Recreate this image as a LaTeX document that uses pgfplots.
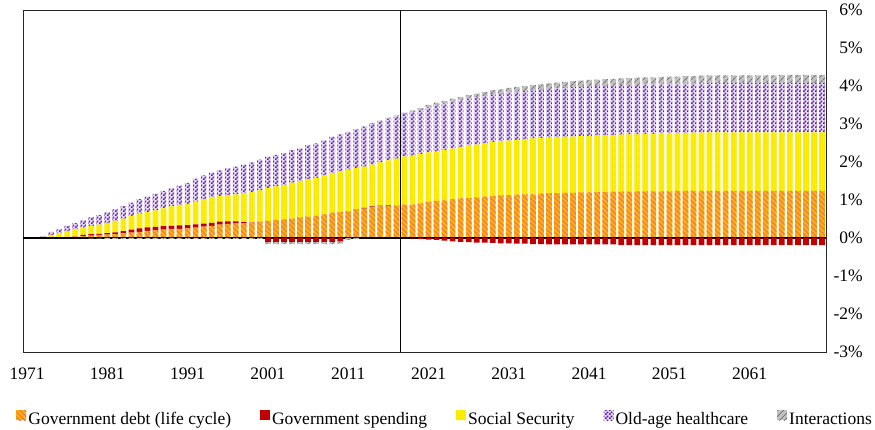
\documentclass[border=0pt]{standalone}
\usepackage{fontspec}
\setmainfont{Liberation Serif}
\usepackage{pgfplots}
\pgfplotsset{compat=1.18}
\usepackage{pgfplotstable}
\usetikzlibrary{patterns,patterns.meta}

% fine checker patterns (Excel-like)
\pgfdeclarepatternformonly{checker}{\pgfpointorigin}{\pgfqpoint{3.6pt}{3.6pt}}{\pgfqpoint{3.6pt}{3.6pt}}{%
  \pgfpathrectangle{\pgfpointorigin}{\pgfqpoint{1.8pt}{1.8pt}}%
  \pgfpathrectangle{\pgfqpoint{1.8pt}{1.8pt}}{\pgfqpoint{1.8pt}{1.8pt}}%
  \pgfusepath{fill}}
\pgfdeclarepatternformonly{finechecker}{\pgfpointorigin}{\pgfqpoint{2pt}{2pt}}{\pgfqpoint{2pt}{2pt}}{%
  \pgfpathrectangle{\pgfpointorigin}{\pgfqpoint{1pt}{1pt}}%
  \pgfpathrectangle{\pgfqpoint{1pt}{1pt}}{\pgfqpoint{1pt}{1pt}}%
  \pgfusepath{fill}}

\definecolor{debtbase}{RGB}{255,180,0}
\definecolor{debtline}{RGB}{240,125,75}
\definecolor{spendc}{RGB}{192,0,0}
\definecolor{ssbase}{RGB}{255,245,0}
\definecolor{ssdot}{RGB}{255,205,0}
\definecolor{hcbase}{RGB}{228,214,242}
\definecolor{hcc}{RGB}{100,30,160}
\definecolor{intbase}{RGB}{192,192,192}
\definecolor{intline}{RGB}{70,70,70}

\newcommand\lfont{\fontsize{17.5pt}{20pt}\selectfont}

% year, debt, spending, social security, healthcare, interactions (% of GDP)
\pgfplotstableread{
year D S SS HC I
1971 0 0 0 0 0
1972 0 0 0 0 0
1973 0.01 0 0.01 0.03 0
1974 0.01 0 0.07 0.08 0
1975 0.02 0 0.10 0.11 0
1976 0.03 0 0.15 0.14 0
1977 0.04 0.01 0.18 0.16 0
1978 0.05 0.03 0.19 0.20 0
1979 0.06 0.04 0.22 0.22 -0.01
1980 0.08 0.03 0.24 0.25 -0.01
1981 0.09 0.04 0.27 0.28 -0.02
1982 0.10 0.05 0.30 0.30 -0.02
1983 0.12 0.06 0.33 0.33 -0.02
1984 0.14 0.08 0.36 0.35 -0.02
1985 0.16 0.09 0.39 0.38 -0.02
1986 0.19 0.09 0.40 0.41 -0.02
1987 0.20 0.09 0.44 0.43 -0.02
1988 0.22 0.09 0.47 0.46 -0.02
1989 0.24 0.08 0.51 0.48 -0.02
1990 0.24 0.09 0.54 0.51 -0.02
1991 0.25 0.09 0.56 0.55 -0.02
1992 0.27 0.09 0.60 0.60 -0.02
1993 0.30 0.08 0.64 0.63 -0.02
1994 0.32 0.08 0.67 0.65 -0.02
1995 0.35 0.08 0.67 0.68 -0.02
1996 0.37 0.07 0.69 0.71 -0.02
1997 0.39 0.05 0.71 0.73 -0.02
1998 0.39 0.03 0.76 0.75 -0.02
1999 0.41 0.01 0.79 0.78 -0.02
2000 0.43 0 0.82 0.81 -0.02
2001 0.45 -0.10 0.86 0.83 -0.06
2002 0.47 -0.10 0.89 0.83 -0.06
2003 0.49 -0.10 0.91 0.83 -0.06
2004 0.51 -0.10 0.95 0.85 -0.06
2005 0.54 -0.10 0.96 0.86 -0.06
2006 0.56 -0.10 0.98 0.90 -0.06
2007 0.58 -0.10 1.00 0.91 -0.06
2008 0.62 -0.10 1.03 0.92 -0.06
2009 0.67 -0.10 1.03 0.97 -0.06
2010 0.68 -0.09 1.08 0.97 -0.06
2011 0.70 0 1.10 0.99 -0.05
2012 0.76 0 1.08 1.02 -0.02
2013 0.77 0.02 1.09 1.05 0.01
2014 0.81 0.02 1.10 1.07 0.02
2015 0.83 0.02 1.14 1.08 0.02
2016 0.84 0.02 1.18 1.10 0.03
2017 0.86 0 1.23 1.11 0.03
2018 0.88 0 1.26 1.12 0.04
2019 0.88 -0.01 1.29 1.14 0.05
2020 0.91 -0.02 1.30 1.15 0.06
2021 0.95 -0.04 1.30 1.19 0.06
2022 0.98 -0.05 1.29 1.22 0.07
2023 0.99 -0.07 1.33 1.22 0.07
2024 1.02 -0.09 1.33 1.24 0.08
2025 1.04 -0.10 1.36 1.23 0.08
2026 1.05 -0.11 1.39 1.23 0.09
2027 1.07 -0.12 1.39 1.24 0.10
2028 1.09 -0.12 1.40 1.25 0.10
2029 1.10 -0.13 1.42 1.26 0.11
2030 1.12 -0.14 1.42 1.25 0.12
2031 1.13 -0.14 1.43 1.27 0.12
2032 1.14 -0.15 1.44 1.27 0.13
2033 1.15 -0.15 1.45 1.27 0.13
2034 1.15 -0.16 1.47 1.26 0.14
2035 1.17 -0.16 1.46 1.27 0.14
2036 1.18 -0.17 1.46 1.28 0.15
2037 1.18 -0.17 1.47 1.29 0.15
2038 1.19 -0.17 1.47 1.29 0.16
2039 1.19 -0.17 1.48 1.30 0.16
2040 1.20 -0.17 1.48 1.29 0.17
2041 1.20 -0.17 1.49 1.30 0.17
2042 1.21 -0.17 1.49 1.30 0.17
2043 1.21 -0.17 1.50 1.29 0.18
2044 1.22 -0.17 1.49 1.30 0.18
2045 1.22 -0.19 1.50 1.30 0.18
2046 1.22 -0.19 1.51 1.30 0.18
2047 1.23 -0.19 1.50 1.30 0.19
2048 1.23 -0.19 1.51 1.30 0.19
2049 1.23 -0.19 1.51 1.30 0.19
2050 1.23 -0.19 1.52 1.30 0.19
2051 1.23 -0.19 1.52 1.31 0.19
2052 1.24 -0.19 1.52 1.30 0.19
2053 1.24 -0.19 1.52 1.30 0.20
2054 1.24 -0.19 1.53 1.29 0.20
2055 1.24 -0.19 1.53 1.30 0.20
2056 1.24 -0.19 1.54 1.30 0.20
2057 1.24 -0.19 1.54 1.30 0.20
2058 1.24 -0.19 1.54 1.30 0.20
2059 1.24 -0.19 1.54 1.30 0.20
2060 1.24 -0.19 1.54 1.30 0.20
2061 1.24 -0.19 1.54 1.30 0.20
2062 1.24 -0.19 1.54 1.30 0.20
2063 1.24 -0.19 1.54 1.30 0.20
2064 1.24 -0.19 1.54 1.30 0.20
2065 1.24 -0.19 1.54 1.30 0.21
2066 1.24 -0.19 1.54 1.30 0.21
2067 1.24 -0.19 1.54 1.30 0.21
2068 1.24 -0.19 1.54 1.30 0.21
2069 1.24 -0.19 1.54 1.30 0.21
2070 1.24 -0.19 1.54 1.30 0.21
}\data

\pgfplotsset{
  base/.style={
    scale only axis, width=803pt, height=342pt,
    at={(23pt,78pt)}, anchor=south west,
    xmin=1970.5, xmax=2070.5, ymin=-3, ymax=6,
    ybar stacked, bar width=5.7pt,
  },
  debt/.style={fill=debtbase, draw=none,
    postaction={pattern={Lines[angle=-45,distance=3.5pt,line width=1.4pt]}, pattern color=debtline}},
  spend/.style={fill=spendc, draw=none},
  ss/.style={fill=ssbase, draw=none,
    postaction={pattern=finechecker, pattern color=ssdot}},
  hc/.style={fill=hcbase, draw=none,
    postaction={pattern=checker, pattern color=hcc}},
  inter/.style={fill=intbase, draw=none,
    postaction={pattern={Lines[angle=45,distance=4pt,line width=0.6pt]}, pattern color=intline}},
}

\begin{document}
\begin{tikzpicture}
\useasboundingbox (0,0) rectangle (875pt,430pt);

% positive parts
\begin{axis}[base,
  axis line style={black!85, line width=0.8pt},
  major tick length=0pt,
  xtick={1971,1981,1991,2001,2011,2021,2031,2041,2051,2061},
  xticklabels={1971,1981,1991,2001,2011,2021,2031,2041,2051,2061},
  ytick={-3,-2,-1,0,1,2,3,4,5,6},
  yticklabels={-3\%,-2\%,-1\%,0\%,1\%,2\%,3\%,4\%,5\%,6\%},
  yticklabel pos=right,
  tick label style={font=\lfont},
  xticklabel style={inner sep=0pt, yshift=-16pt},
  yticklabel style={anchor=east, inner sep=0pt, xshift=37pt},
  legend columns=5,
  legend style={at={(axis description cs:-0.0081,-0.196)}, anchor=west,
    draw=none, fill=none, inner sep=0pt, outer sep=0pt, font=\lfont,
    nodes={inner sep=2pt},
    /tikz/every even column/.append style={column sep=27pt}},
  legend image code/.code={\path[#1] (0pt,-1pt) rectangle (10pt,9pt);},
]
\addplot[debt]  table[x=year, y=D] {\data};
\addplot[spend] table[x=year, y expr={max(\thisrow{S},0)}] {\data};
\addplot[ss]    table[x=year, y=SS] {\data};
\addplot[hc]    table[x=year, y=HC] {\data};
\addplot[inter] table[x=year, y expr={max(\thisrow{I},0)}] {\data};
\legend{Government debt (life cycle), Government spending, Social Security, Old-age healthcare, Interactions}
\end{axis}

% negative parts stack downward from zero
\begin{axis}[base, hide axis]
\addplot[spend] table[x=year, y expr={min(\thisrow{S},0)}] {\data};
\addplot[inter] table[x=year, y expr={min(\thisrow{I},0)}] {\data};
\draw[black, line width=1.5pt] (axis cs:1970.5,0) -- (axis cs:2070.5,0);
\draw[black, line width=0.9pt] (axis cs:2017.5,-3) -- (axis cs:2017.5,6);
\end{axis}
\end{tikzpicture}
\end{document}
